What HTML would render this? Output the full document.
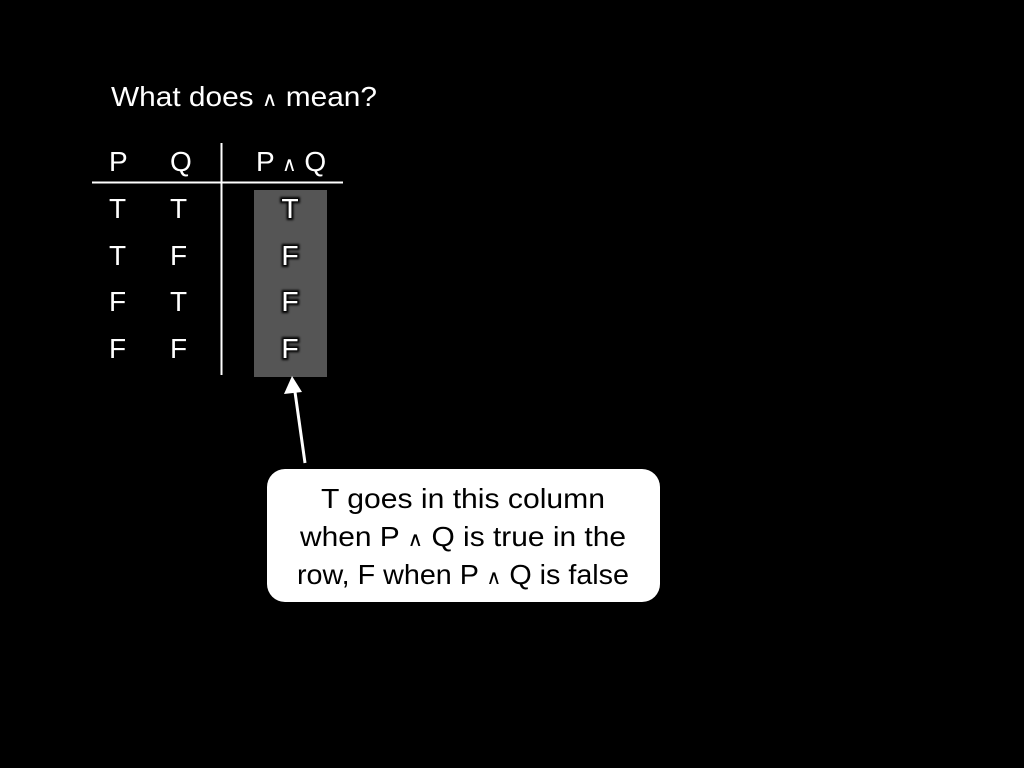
<!DOCTYPE html>
<html><head><style>html,body{margin:0;background:#000;}</style></head>
<body>
<svg width="1024" height="768" viewBox="0 0 1024 768" xmlns="http://www.w3.org/2000/svg" style="display:block">
<defs>
<filter id="g" x="-50%" y="-50%" width="200%" height="200%">
<feMorphology in="SourceAlpha" operator="dilate" radius="2" result="d"/>
<feGaussianBlur in="d" stdDeviation="1" result="b"/>
<feFlood flood-color="#000" result="k"/>
<feComposite in="k" in2="b" operator="in" result="s"/>
<feMerge><feMergeNode in="s"/><feMergeNode in="SourceGraphic"/></feMerge>
</filter>
</defs>
<rect width="1024" height="768" fill="#000"/>
<g font-family="Liberation Sans, sans-serif" font-size="28" fill="#fff">
<text x="111" y="106" textLength="266" lengthAdjust="spacingAndGlyphs">What does <tspan font-size="20">∧</tspan> mean?</text>
<text x="109" y="171">P</text><text x="170" y="171">Q</text>
<text x="256" y="171">P <tspan font-size="20">∧</tspan> Q</text>
<text x="109" y="218">T</text><text x="170" y="218">T</text>
<text x="109" y="265">T</text><text x="170" y="265">F</text>
<text x="109" y="311">F</text><text x="170" y="311">T</text>
<text x="109" y="358">F</text><text x="170" y="358">F</text>
</g>
<line x1="92" y1="182.5" x2="343" y2="182.5" stroke="#fff" stroke-width="2"/>
<line x1="221.5" y1="143" x2="221.5" y2="375" stroke="#fff" stroke-width="2"/>
<rect x="254" y="190" width="73" height="187" fill="#555"/>
<g font-family="Liberation Sans, sans-serif" font-size="28" fill="#fff" text-anchor="middle" filter="url(#g)">
<text x="290" y="218">T</text>
<text x="290" y="265">F</text>
<text x="290" y="311">F</text>
<text x="290" y="358">F</text>
</g>
<line x1="305" y1="463" x2="295" y2="392" stroke="#fff" stroke-width="3"/>
<polygon points="292,376 284,394 302,392" fill="#fff"/>
<rect x="267" y="469" width="393" height="133" rx="18" fill="#fff"/>
<g font-family="Liberation Sans, sans-serif" font-size="28" fill="#000" text-anchor="middle">
<text x="463" y="508" textLength="284" lengthAdjust="spacingAndGlyphs">T goes in this column</text>
<text x="463" y="546" textLength="326" lengthAdjust="spacingAndGlyphs">when P <tspan font-size="20">∧</tspan> Q is true in the</text>
<text x="463" y="584" textLength="332" lengthAdjust="spacingAndGlyphs">row, F when P <tspan font-size="20">∧</tspan> Q is false</text>
</g>
</svg>
</body></html>
